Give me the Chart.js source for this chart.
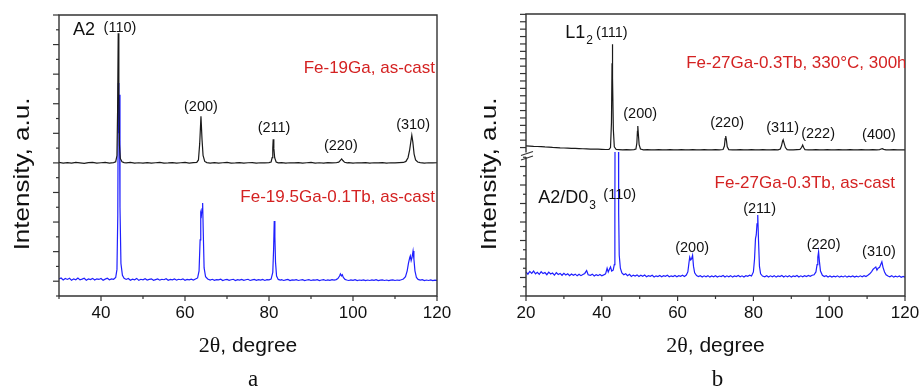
<!DOCTYPE html>
<html>
<head>
<meta charset="utf-8">
<script src="https://cdn.jsdelivr.net/npm/chart.js@4.4.0/dist/chart.umd.min.js"></script>
<style>
  html, body { margin: 0; padding: 0; background: #fff; }
  #wrap { position: relative; width: 919px; height: 391px; overflow: hidden; }
  canvas { position: absolute; top: 0; }
  #chartA { left: 0; }
  #chartB { left: 460px; }
</style>
</head>
<body>
<div id="wrap">
  <canvas id="chartA" width="460" height="391"></canvas>
  <canvas id="chartB" width="459" height="391"></canvas>
</div>
<script>
// ---- dados (2θ em graus, intensidade em unidades arbitrárias) ----

// painel a, Fe-19Ga, as-cast
const fe19GaCast = [
  [30,9.03],[31,8.99],[32,9.02],[33,8.98],[34,9.03],[35,9.00],[36,8.97],[37,9.02],[38,9.04],[39,8.99],
  [40,9.01],[41,9.03],[42,8.99],[43,9.02],[43.5,9.08],[43.8,9.5],[43.95,12.5],[44.1,17.76],[44.25,13.5],
  [44.4,10.2],[44.6,9.3],[45,9.08],[45.5,9.02],[46,9.00],[47,9.03],[48,8.98],[49,9.01],[50,8.99],[51,9.02],
  [52,8.98],[53,9.01],[54,9.03],[55,8.99],[56,9.00],[57,9.02],[58,8.98],[59,9.01],[60,9.03],[61,8.99],
  [62,9.02],[62.8,9.04],[63.2,9.2],[63.5,10.3],[63.8,12.16],[64.05,10.6],[64.3,9.5],[64.7,9.1],[65.2,9.02],
  [66,8.99],[67,9.02],[68,8.98],[69,9.01],[70,9.03],[71,8.99],[72,9.00],[73,9.02],[74,8.98],[75,9.01],
  [76,9.02],[77,8.98],[78,9.01],[79,9.00],[80,9.02],[80.5,9.06],[80.75,9.35],[80.9,10.0],[81.0,10.6],
  [81.15,10.0],[81.35,9.35],[81.7,9.06],[82.2,9.00],[83,9.02],[84,8.98],[85,9.01],[86,9.00],[87,9.02],
  [88,8.98],[89,9.01],[90,9.03],[91,8.99],[92,9.01],[93,8.99],[94,9.02],[95,9.00],[96,9.01],[96.6,9.05],
  [97.0,9.17],[97.3,9.27],[97.6,9.16],[98.0,9.04],[98.6,9.00],[99,9.02],[100,8.98],[101,9.01],[102,9.00],
  [103,9.02],[104,8.98],[105,9.01],[106,9.00],[107,9.02],[108,8.99],[109,9.01],[110,9.00],[111,9.02],
  [112,9.03],[112.6,9.1],[113.1,9.35],[113.5,9.9],[113.8,10.5],[114.0,10.87],[114.25,10.4],[114.55,9.6],
  [114.9,9.2],[115.4,9.06],[116,9.02],[117,8.99],[118,9.01],[119,9.00],[120,9.01]
];

// painel a, Fe-19.5Ga-0.1Tb, as-cast
const fe195GaTbCast = [
  [30,1.15],[30.5,1.22],[31,1.08],[31.5,1.18],[32,1.12],[32.5,1.2],[33,1.06],[33.5,1.16],[34,1.1],[34.5,1.21],
  [35,1.09],[35.5,1.14],[36,1.2],[36.5,1.07],[37,1.15],[37.5,1.11],[38,1.19],[38.5,1.08],[39,1.16],[39.5,1.12],
  [40,1.18],[40.5,1.07],[41,1.14],[41.5,1.2],[42,1.1],[42.5,1.16],[43,1.13],[43.5,1.25],[43.8,1.8],[44.0,5.5],
  [44.12,14.4],[44.25,11.0],[44.38,13.6],[44.52,6.0],[44.75,2.2],[45.1,1.4],[45.5,1.2],[46,1.12],[46.5,1.18],
  [47,1.07],[47.5,1.14],[48,1.1],[48.5,1.19],[49,1.06],[49.5,1.13],[50,1.09],[50.5,1.17],[51,1.08],[51.5,1.12],
  [52,1.16],[52.5,1.06],[53,1.11],[53.5,1.15],[54,1.07],[54.5,1.13],[55,1.1],[55.5,1.17],[56,1.06],[56.5,1.12],
  [57,1.09],[57.5,1.15],[58,1.07],[58.5,1.13],[59,1.1],[59.5,1.16],[60,1.06],[60.5,1.12],[61,1.09],[61.5,1.14],
  [62,1.08],[62.5,1.15],[63,1.22],[63.35,1.7],[63.6,3.8],[63.75,5.6],[63.9,5.45],[64.05,5.9],[64.2,6.28],
  [64.35,4.3],[64.55,1.9],[64.9,1.3],[65.4,1.15],[66,1.08],[66.5,1.13],[67,1.06],[67.5,1.11],[68,1.09],
  [68.5,1.14],[69,1.05],[69.5,1.1],[70,1.12],[70.5,1.06],[71,1.1],[71.5,1.13],[72,1.05],[72.5,1.11],[73,1.08],
  [73.5,1.12],[74,1.06],[74.5,1.1],[75,1.13],[75.5,1.05],[76,1.09],[76.5,1.12],[77,1.06],[77.5,1.1],[78,1.08],
  [78.5,1.12],[79,1.05],[79.5,1.1],[80,1.09],[80.5,1.14],[80.9,1.6],[81.1,3.2],[81.25,5.07],[81.4,4.0],
  [81.55,2.3],[81.8,1.35],[82.2,1.12],[82.7,1.08],[83,1.1],[83.5,1.05],[84,1.09],[84.5,1.12],[85,1.04],
  [85.5,1.09],[86,1.07],[86.5,1.11],[87,1.05],[87.5,1.08],[88,1.1],[88.5,1.04],[89,1.08],[89.5,1.11],[90,1.05],
  [90.5,1.09],[91,1.07],[91.5,1.1],[92,1.04],[92.5,1.08],[93,1.1],[93.5,1.05],[94,1.09],[94.5,1.06],[95,1.1],
  [95.5,1.07],[96,1.11],[96.4,1.18],[96.8,1.35],[97.0,1.49],[97.25,1.36],[97.45,1.44],[97.7,1.25],[98.1,1.12],
  [98.5,1.08],[99,1.05],[99.5,1.09],[100,1.06],[100.5,1.1],[101,1.04],[101.5,1.08],[102,1.06],[102.5,1.09],
  [103,1.04],[103.5,1.08],[104,1.05],[104.5,1.09],[105,1.06],[105.5,1.1],[106,1.04],[106.5,1.07],[107,1.09],
  [107.5,1.05],[108,1.08],[108.5,1.04],[109,1.07],[109.5,1.09],[110,1.05],[110.5,1.08],[111,1.06],[111.5,1.1],
  [112,1.15],[112.5,1.3],[112.9,1.7],[113.2,2.2],[113.5,2.6],[113.65,2.72],[113.85,2.4],[114.05,2.6],
  [114.3,3.04],[114.5,2.5],[114.75,1.7],[115.1,1.25],[115.5,1.12],[116,1.07],[116.5,1.1],[117,1.04],
  [117.5,1.08],[118,1.05],[118.5,1.09],[119,1.04],[119.5,1.07],[120,1.05]
];

// painel b, Fe-27Ga-0.3Tb, 330°C, 300h (eixo de cima)
const fe27GaAnnealed = [
  [20,0.41],[21,0.40],[22,0.38],[23,0.37],[24,0.36],[25,0.34],[26,0.33],[27,0.31],[28,0.30],[29,0.28],
  [30,0.27],[31,0.26],[32,0.25],[33,0.24],[34,0.23],[35,0.22],[36,0.21],[37,0.20],[38,0.19],[39,0.19],
  [40,0.18],[41,0.17],[41.9,0.17],[42.3,0.3],[42.55,2.0],[42.7,6.0],[42.78,7.28],[42.88,5.0],[43.05,1.5],
  [43.3,0.35],[43.8,0.17],[44.5,0.16],[45.5,0.15],[46.5,0.16],[47.5,0.15],[48.5,0.16],[49.0,0.2],[49.25,0.6],
  [49.4,1.4],[49.5,1.76],[49.62,1.3],[49.85,0.5],[50.2,0.2],[51,0.15],[52,0.16],[53,0.14],[54,0.15],[55,0.16],
  [56,0.14],[57,0.15],[58,0.16],[59,0.14],[60,0.15],[61,0.16],[62,0.14],[63,0.15],[64,0.16],[65,0.14],
  [66,0.15],[67,0.16],[68,0.14],[69,0.15],[70,0.16],[71,0.14],[72,0.17],[72.35,0.4],[72.55,0.9],[72.7,1.08],
  [72.85,0.85],[73.1,0.35],[73.5,0.16],[74.5,0.15],[75.5,0.14],[76.5,0.16],[77.5,0.15],[78.5,0.14],[79.5,0.16],
  [80.5,0.15],[81.5,0.14],[82.5,0.16],[83.5,0.15],[84.5,0.14],[85.5,0.16],[86.5,0.15],[87.1,0.2],[87.45,0.45],
  [87.7,0.75],[87.85,0.83],[88.1,0.6],[88.45,0.3],[88.9,0.16],[89.5,0.15],[90.5,0.14],[91.5,0.16],[92.3,0.17],
  [92.7,0.3],[93.0,0.47],[93.25,0.3],[93.6,0.16],[94.5,0.15],[95.5,0.14],[96.5,0.16],[97.5,0.15],[98.5,0.14],
  [99.5,0.16],[100.5,0.15],[101.5,0.14],[102.5,0.16],[103.5,0.15],[104.5,0.14],[105.5,0.16],[106.5,0.15],
  [107.5,0.14],[108.5,0.16],[109.5,0.15],[110.5,0.14],[111.5,0.16],[112.5,0.15],[113.3,0.16],[113.7,0.2],
  [114.0,0.22],[114.4,0.18],[115,0.15],[116,0.14],[117,0.16],[118,0.15],[119,0.14],[120,0.15]
];

// painel b, Fe-27Ga-0.3Tb, as-cast (eixo de baixo)
const fe27GaCast = [
  [20,1.3],[20.5,1.18],[21,1.33],[21.5,1.22],[22,1.35],[22.5,1.2],[23,1.28],[23.5,1.17],[24,1.31],[24.5,1.21],
  [25,1.27],[25.5,1.15],[26,1.29],[26.5,1.19],[27,1.24],[27.5,1.13],[28,1.26],[28.5,1.16],[29,1.22],[29.5,1.12],
  [30,1.23],[30.5,1.14],[31,1.2],[31.5,1.1],[32,1.19],[32.5,1.12],[33,1.18],[33.5,1.09],[34,1.17],[34.5,1.1],
  [35,1.16],[35.5,1.22],[36,1.37],[36.4,1.15],[37,1.12],[37.5,1.18],[38,1.08],[38.5,1.15],[39,1.1],[39.5,1.16],
  [40,1.09],[40.5,1.14],[41,1.2],[41.4,1.5],[41.7,1.3],[42,1.45],[42.3,1.57],[42.6,1.35],[43,1.4],[43.3,1.7],
  [43.45,4.5],[43.5,9.5],[44.4,9.5],[44.45,4.5],[44.6,2.2],[44.9,1.5],[45.3,1.25],[45.8,1.15],[46.3,1.2],
  [46.8,1.1],[47.3,1.17],[47.8,1.06],[48.3,1.13],[48.8,1.08],[49.3,1.14],[49.8,1.05],[50.3,1.12],[50.8,1.07],
  [51.3,1.13],[51.8,1.04],[52.3,1.1],[52.8,1.06],[53.3,1.12],[53.8,1.03],[54.3,1.09],[54.8,1.05],[55.3,1.11],
  [55.8,1.04],[56.3,1.1],[56.8,1.06],[57.3,1.12],[57.8,1.04],[58.3,1.09],[58.8,1.05],[59.3,1.11],[59.8,1.04],
  [60.3,1.1],[60.8,1.06],[61.3,1.12],[61.8,1.05],[62.3,1.13],[62.7,1.3],[63.0,1.8],[63.2,2.1],[63.45,1.95],
  [63.7,2.02],[63.95,2.2],[64.2,1.6],[64.5,1.25],[65,1.1],[65.5,1.05],[66,1.1],[66.5,1.03],[67,1.09],[67.5,1.04],
  [68,1.1],[68.5,1.02],[69,1.08],[69.5,1.04],[70,1.1],[70.5,1.03],[71,1.08],[71.5,1.05],[72,1.11],[72.5,1.03],
  [73,1.09],[73.5,1.04],[74,1.1],[74.5,1.02],[75,1.08],[75.5,1.05],[76,1.11],[76.5,1.04],[77,1.09],[77.5,1.03],
  [78,1.1],[78.5,1.06],[79,1.12],[79.5,1.08],[80.0,1.3],[80.3,2.0],[80.55,3.1],[80.75,3.3],[80.95,3.9],
  [81.15,4.38],[81.35,3.0],[81.6,1.6],[81.9,1.2],[82.4,1.08],[83,1.04],[83.5,1.1],[84,1.03],[84.5,1.09],
  [85,1.04],[85.5,1.1],[86,1.02],[86.5,1.08],[87,1.05],[87.5,1.11],[88,1.03],[88.5,1.09],[89,1.04],[89.5,1.1],
  [90,1.02],[90.5,1.08],[91,1.05],[91.5,1.11],[92,1.03],[92.5,1.09],[93,1.04],[93.5,1.1],[94,1.05],[94.5,1.11],
  [95,1.06],[95.5,1.12],[96,1.15],[96.5,1.3],[96.8,1.7],[97.0,2.1],[97.2,2.39],[97.4,1.9],[97.7,1.35],
  [98.2,1.12],[98.7,1.05],[99.2,1.1],[99.7,1.03],[100.2,1.08],[100.7,1.02],[101.2,1.07],[101.7,1.04],
  [102.2,1.09],[102.7,1.02],[103.2,1.07],[103.7,1.03],[104.2,1.09],[104.7,1.02],[105.2,1.07],[105.7,1.04],
  [106.2,1.08],[106.7,1.02],[107.2,1.07],[107.7,1.03],[108.2,1.09],[108.7,1.04],[109.2,1.1],[109.7,1.05],
  [110.2,1.12],[110.7,1.2],[111.2,1.32],[111.6,1.45],[112.0,1.52],[112.3,1.57],[112.6,1.4],[112.9,1.5],
  [113.3,1.55],[113.6,1.7],[113.9,1.85],[114.2,1.55],[114.6,1.3],[115.0,1.15],[115.5,1.08],[116,1.04],
  [116.5,1.1],[117,1.02],[117.5,1.07],[118,1.03],[118.5,1.08],[119,1.01],[119.5,1.06],[120,1.02]
];

// ticks
const xTicksA = [30, 40, 50, 60, 70, 80, 90, 100, 110, 120];
const xTicksB = [20, 30, 40, 50, 60, 70, 80, 90, 100, 110, 120];
const xLabelEvery = 20;
const yTicksA = [0,1,2,3,4,5,6,7,8,9,10,11,12,13,14,15,16,17,18,19];
const yTicksBTop = [0.3,0.8,1.3,1.8,2.3,2.8,3.3,3.8,4.3,4.8,5.3,5.8,6.3,6.8,7.3,7.8,8.3,8.8,9.3];
const yTicksBBot = [0,0.5,1,1.5,2,2.5,3,3.5,4,4.5,5,5.5,6,6.5,7,7.5];

// textos: [texto, x (graus), y (unidades do eixo), eixo, tamanho, cor, alinhamento, subscrito]
const RED = '#d42222';
const notesA = [
  ['A2', 35.95, 17.97, 'y', 18, '#111', 'center'],
  ['(110)', 44.52, 18.1, 'y', 14.5, '#111', 'center'],
  ['(200)', 63.8, 12.77, 'y', 14.5, '#111', 'center'],
  ['(211)', 81.2, 11.35, 'y', 14.5, '#111', 'center'],
  ['(220)', 97.1, 10.13, 'y', 14.5, '#111', 'center'],
  ['(310)', 114.3, 11.55, 'y', 14.5, '#111', 'center'],
  ['Fe-19Ga, as-cast', 119.52, 15.4, 'y', 17, RED, 'right'],
  ['Fe-19.5Ga-0.1Tb, as-cast', 119.52, 6.69, 'y', 17, RED, 'right']
];
const notesB = [
  ['L1', 30.36, 8.04, 'yTop', 18, '#111', 'left', '2'],
  ['(111)', 42.62, 8.04, 'yTop', 14.5, '#111', 'center'],
  ['Fe-27Ga-0.3Tb, 330°C, 300h', 62.26, 6.01, 'yTop', 17, RED, 'left'],
  ['(200)', 50.13, 2.57, 'yTop', 14.5, '#111', 'center'],
  ['(220)', 73.07, 1.96, 'yTop', 14.5, '#111', 'center'],
  ['(311)', 87.7, 1.62, 'yTop', 14.5, '#111', 'center'],
  ['(222)', 97.06, 1.22, 'yTop', 14.5, '#111', 'center'],
  ['(400)', 113.14, 1.15, 'yTop', 14.5, '#111', 'center'],
  ['Fe-27Ga-0.3Tb, as-cast', 117.37, 6.11, 'yBot', 17, RED, 'right'],
  ['A2/D0', 23.24, 5.3, 'yBot', 18, '#111', 'left', '3'],
  ['(110)', 44.73, 5.46, 'yBot', 14.5, '#111', 'center'],
  ['(200)', 63.84, 2.59, 'yBot', 14.5, '#111', 'center'],
  ['(211)', 81.64, 4.7, 'yBot', 14.5, '#111', 'center'],
  ['(220)', 98.51, 2.76, 'yBot', 14.5, '#111', 'center'],
  ['(310)', 113.14, 2.38, 'yBot', 14.5, '#111', 'center']
];

const SANS = '"Liberation Sans", Arial, sans-serif';
const SERIF = '"Liberation Serif", "Times New Roman", serif';
const AXIS = '#333';

function put(ctx, s, x, y, size, color, align, family) {
  ctx.font = size + 'px ' + (family || SANS);
  ctx.fillStyle = color;
  ctx.textAlign = align;
  ctx.textBaseline = 'middle';
  ctx.fillText(s, x, y);
}

function yTicks(ctx, scale, left, values) {
  values.forEach(v => {
    const y = scale.getPixelForValue(v);
    const major = Math.abs(v - Math.round(v)) < 0.01 ? 0 : 1;
    const len = (values === yTicksA ? (v % 2 === 1) : (major === 0) !== (values === yTicksBTop)) ? 6 : 3;
    ctx.beginPath();
    ctx.moveTo(left - len, y);
    ctx.lineTo(left, y);
    ctx.stroke();
  });
}

// plugin que desenha moldura, ticks e textos
const framePlugin = {
  id: 'xrdFrame',
  afterDatasetsDraw(chart, args, o) {
    const ctx = chart.ctx;
    const a = chart.chartArea;
    const xs = chart.scales.x;
    ctx.save();
    ctx.strokeStyle = AXIS;
    ctx.lineWidth = 1.4;
    ctx.lineCap = 'butt';

    // moldura
    ctx.beginPath();
    ctx.moveTo(a.left, a.bottom);
    ctx.lineTo(a.right, a.bottom);
    ctx.lineTo(a.right, a.top);
    ctx.lineTo(a.left, a.top);
    if (o.broken) {
      const yb = chart.scales.yTop.bottom;
      ctx.lineTo(a.left, yb + 0.5);
      ctx.moveTo(a.left, yb + 5);
      ctx.lineTo(a.left, a.bottom);
      ctx.stroke();
      ctx.lineWidth = 1.2;
      ctx.beginPath();
      ctx.moveTo(a.left - 5, yb + 3.5); ctx.lineTo(a.left + 7, yb - 0.5);
      ctx.moveTo(a.left - 5, yb + 8); ctx.lineTo(a.left + 7, yb + 4);
      ctx.stroke();
      ctx.lineWidth = 1.4;
    } else {
      ctx.lineTo(a.left, a.bottom);
      ctx.stroke();
    }

    // ticks x
    ctx.lineWidth = 1.2;
    o.xTicks.forEach(v => {
      const x = xs.getPixelForValue(v);
      const major = v % xLabelEvery === 0;
      ctx.beginPath();
      ctx.moveTo(x, a.bottom);
      ctx.lineTo(x, a.bottom + (major ? 5 : 3));
      ctx.stroke();
      if (major) put(ctx, String(v), x, a.bottom + 17, 17, '#111', 'center');
    });

    // ticks y
    o.yAxes.forEach(([id, values]) => yTicks(ctx, chart.scales[id], a.left, values));

    // título do eixo y
    ctx.save();
    ctx.translate(o.yTitleX, 174);
    ctx.scale(0.88, 1);
    ctx.rotate(-Math.PI / 2);
    put(ctx, 'Intensity, a.u.', 0, 0, 26, '#111', 'center');
    ctx.restore();

    // título do eixo x: "2θ" em serif, resto em sans
    const cx = (a.left + a.right) / 2;
    ctx.font = '22px ' + SERIF;
    const w1 = ctx.measureText('2θ').width;
    ctx.font = '21px ' + SANS;
    const w2 = ctx.measureText(', degree').width;
    const x0 = cx - (w1 + w2) / 2;
    put(ctx, '2θ', x0, 346, 22, '#111', 'left', SERIF);
    put(ctx, ', degree', x0 + w1, 346, 21, '#111', 'left');

    // legenda do painel
    put(ctx, o.caption, cx + o.captionDx, 380, 23, '#111', 'center', SERIF);

    // anotações, cortadas na área do gráfico
    ctx.save();
    ctx.beginPath();
    ctx.rect(a.left, a.top, a.right - a.left, a.bottom - a.top);
    ctx.clip();
    o.notes.forEach(([t, vx, vy, axis, size, color, align, sub]) => {
      const x = xs.getPixelForValue(vx);
      const y = chart.scales[axis].getPixelForValue(vy);
      put(ctx, t, x, y, size, color, align);
      if (sub) {
        ctx.font = size + 'px ' + SANS;
        const w = ctx.measureText(t).width;
        put(ctx, sub, x + w + 1, y + 8, 12, color, 'left');
      }
    });
    ctx.restore();
    ctx.restore();
  }
};

function lineSet(data, color, yAxisID) {
  return {
    data: data,
    borderColor: color,
    borderWidth: 1.2,
    pointRadius: 0,
    tension: 0,
    fill: false,
    yAxisID: yAxisID || 'y'
  };
}

// Função para criar o painel a
function createChartA() {
  const ctx = document.getElementById('chartA').getContext('2d');
  new Chart(ctx, {
    type: 'line',
    data: {
      datasets: [
        lineSet(fe19GaCast, '#1a1a1a'),
        lineSet(fe195GaTbCast, '#1f1fff')
      ]
    },
    options: {
      responsive: false,
      animation: false,
      layout: { padding: { left: 59, right: 23, top: 15, bottom: 95 } },
      scales: {
        x: { type: 'linear', min: 30, max: 120, display: false },
        y: { type: 'linear', min: 0, max: 19, display: false }
      },
      plugins: {
        legend: { display: false },
        tooltip: { enabled: false },
        xrdFrame: {
          xTicks: xTicksA,
          yAxes: [['y', yTicksA]],
          yTitleX: 23,
          caption: 'a',
          captionDx: 5,
          notes: notesA
        }
      }
    },
    plugins: [framePlugin]
  });
}

// Função para criar o painel b (eixo y quebrado)
function createChartB() {
  const ctx = document.getElementById('chartB').getContext('2d');
  new Chart(ctx, {
    type: 'line',
    data: {
      datasets: [
        lineSet(fe27GaAnnealed, '#1a1a1a', 'yTop'),
        lineSet(fe27GaCast, '#1f1fff', 'yBot')
      ]
    },
    options: {
      responsive: false,
      animation: false,
      layout: { padding: { left: 66, right: 14, top: 14, bottom: 95 } },
      scales: {
        x: { type: 'linear', min: 20, max: 120, display: false },
        yBot: { type: 'linear', position: 'left', stack: 'int', stackWeight: 144, min: 0, max: 7.784, display: false },
        yTop: { type: 'linear', position: 'left', stack: 'int', stackWeight: 138, min: 0, max: 9.324, display: false }
      },
      plugins: {
        legend: { display: false },
        tooltip: { enabled: false },
        xrdFrame: {
          xTicks: xTicksB,
          yAxes: [['yTop', yTicksBTop], ['yBot', yTicksBBot]],
          yTitleX: 30,
          caption: 'b',
          captionDx: 2,
          broken: true,
          notes: notesB
        }
      }
    },
    plugins: [framePlugin]
  });
}

createChartA();
createChartB();
</script>
</body>
</html>
